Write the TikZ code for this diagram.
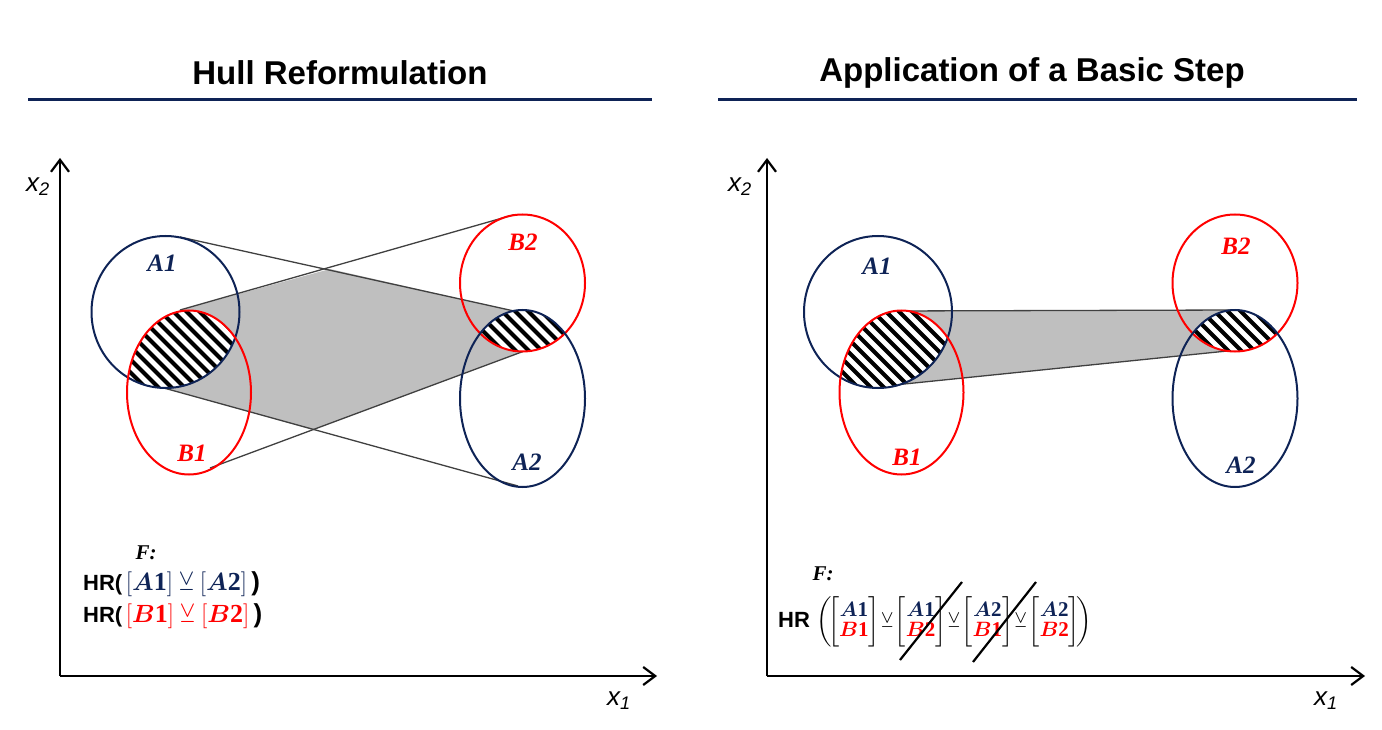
\documentclass[tikz,border=0pt]{standalone}
\usepackage{amsmath,amssymb,bm}
\usepackage{xcolor}
\usepackage{fontspec}
\setmainfont{Liberation Serif}
\setsansfont{Liberation Sans}
\usetikzlibrary{arrows.meta,positioning}
\definecolor{navy}{HTML}{0E2356}
\definecolor{hullred}{HTML}{FF0000}
\definecolor{hullgray}{HTML}{BFBFBF}
\tikzset{
	settitle/.style={font=\sffamily\bfseries\fontsize{33}{38}\selectfont},
	setlabel/.style={font=\bfseries\itshape\fontsize{25}{28}\selectfont},
	axislabel/.style={font=\sffamily\itshape\fontsize{26}{30}\selectfont},
	axisline/.style={line width=2.2pt,-{Straight Barb[length=12pt,width=18pt,line width=2.2pt]}},
	sepline/.style={navy,line width=3pt},
	setA/.style={navy,line width=2pt},
	setB/.style={hullred,line width=2pt},
	hullline/.style={black!75,line width=1.3pt},
	hatchline/.style={black,line width=4pt}
}
\newcommand{\bA}[1]{\boldsymbol{A}\mathbf{#1}}
\newcommand{\bB}[1]{\boldsymbol{B}\mathbf{#1}}
\begin{document}
\begin{tikzpicture}[x=1pt,y=-1pt]
\useasboundingbox (0,0) rectangle (1382,730);

			% Titles
			\node[settitle] (titleL) at (340,73) {Hull Reformulation};
			\node[settitle] (titleR) at (1032,73) {Application of a Basic Step};
			\draw[sepline] (28,100) -- (652,100);
			\draw[sepline] (718,100) -- (1357,100);

			% Axes
			\coordinate (oL) at (60,676);
			\coordinate (oR) at (767,676);
			\draw[axisline] (oL) -- (60,158);
			\draw[axisline] (oL) -- (657,676);
			\draw[axisline] (oR) -- (767,158);
			\draw[axisline] (oR) -- (1365,676);
			\node[axislabel] (x2L) at (38,187) {x\textsubscript{2}};
			\node[axislabel] (x1L) at (619,701) {x\textsubscript{1}};
			\node[axislabel] (x2R) at (740,187) {x\textsubscript{2}};
			\node[axislabel] (x1R) at (1326,701) {x\textsubscript{1}};

			% Left: intersection of the two hulls
			\fill[hullgray] (180,310) -- (330,269) -- (523,313) -- (527,350) -- (313,430) -- (153,385) -- cycle;
			\draw[hullline] (180,237) -- (523,313);
			\draw[hullline] (153,385) -- (518,486);
			\draw[hullline] (180,310) -- (513,215);
			\draw[hullline] (210,468) -- (527,350);

			% Right: hull of the two disjuncts
			\fill[hullgray] (893,311) -- (1237,310) -- (1237,350) -- (875,387) -- cycle;
			\draw[hullline] (893,311) -- (1237,310);
			\draw[hullline] (875,387) -- (1237,350);

			% Hatched intersections
			\foreach \dx in {0,712.5}{
				\begin{scope}
					\clip (165.5+\dx,312) ellipse [x radius=74,y radius=76];
					\clip (189+\dx,392.5) ellipse [x radius=62,y radius=82];
					\fill[white] (100+\dx,280) rectangle (260+\dx,400);
					\foreach \i in {-40,-27,...,260}
						\draw[hatchline] (\i+\dx,280) -- (\i+\dx+140,420);
				\end{scope}
				\begin{scope}
					\clip (522.5+\dx,283) ellipse [x radius=62.5,y radius=68.5];
					\clip (522.5+\dx,398.5) ellipse [x radius=62.5,y radius=88.5];
					\fill[white] (450+\dx,300) rectangle (600+\dx,360);
					\foreach \i in {400,413,...,600}
						\draw[hatchline] (\i+\dx,300) -- (\i+\dx+60,360);
				\end{scope}
				\draw[setA] (165.5+\dx,312) ellipse [x radius=74,y radius=76];
				\draw[setB] (189+\dx,392.5) ellipse [x radius=62,y radius=82];
				\draw[setB] (522.5+\dx,283) ellipse [x radius=62.5,y radius=68.5];
				\draw[setA] (522.5+\dx,398.5) ellipse [x radius=62.5,y radius=88.5];
			}

			% Set labels
			\node[setlabel,navy] (labA1L) at (162,263) {A1};
			\node[setlabel,hullred] (labB1L) at (192,453) {B1};
			\node[setlabel,hullred] (labB2L) at (523,242) {B2};
			\node[setlabel,navy] (labA2L) at (527,462) {A2};
			\node[setlabel,navy] (labA1R) at (877,266) {A1};
			\node[setlabel,hullred] (labB1R) at (907,457) {B1};
			\node[setlabel,hullred] (labB2R) at (1236,246) {B2};
			\node[setlabel,navy] (labA2R) at (1241,465) {A2};

			% Formulas
			\node[font=\bfseries\itshape\fontsize{21}{24}\selectfont] (FL) at (146,553) {F:};
			\node[anchor=west,font=\sffamily\bfseries\fontsize{22}{26}\selectfont,inner sep=0pt] (hrA) at (83,584)
				{HR(\,\fontsize{26}{28}\selectfont\color{navy}$[\bA1]\veebar[\bA2]$\color{black}\,)};
			\node[anchor=west,font=\sffamily\bfseries\fontsize{22}{26}\selectfont,inner sep=0pt] (hrB) at (83,616)
				{HR(\,\fontsize{26}{28}\selectfont\color{hullred}$[\bB1]\veebar[\bB2]$\color{black}\,)};

			\node[font=\bfseries\itshape\fontsize{21}{24}\selectfont] (FR) at (823,574) {F:};
			\node[anchor=west,font=\sffamily\bfseries\fontsize{22}{26}\selectfont,inner sep=0pt] (hrR) at (778,622)
				{HR\ \fontsize{21}{23}\selectfont$\biggl(\!
				\begin{bmatrix}\color{navy}\bA1\\[-3pt]\color{hullred}\bB1\end{bmatrix}\!\veebar\!
				\begin{bmatrix}\color{navy}\bA1\\[-3pt]\color{hullred}\bB2\end{bmatrix}\!\veebar\!
				\begin{bmatrix}\color{navy}\bA2\\[-3pt]\color{hullred}\bB1\end{bmatrix}\!\veebar\!
				\begin{bmatrix}\color{navy}\bA2\\[-3pt]\color{hullred}\bB2\end{bmatrix}\!\biggr)$};
			\coordinate (s1a) at (900,660);
			\coordinate (s1b) at (962,582);
			\coordinate (s2a) at (973,662);
			\coordinate (s2b) at (1036,582);
			\draw[line width=2.2pt] (s1a) -- (s1b);
			\draw[line width=2.2pt] (s2a) -- (s2b);

		\end{tikzpicture}
\end{document}
